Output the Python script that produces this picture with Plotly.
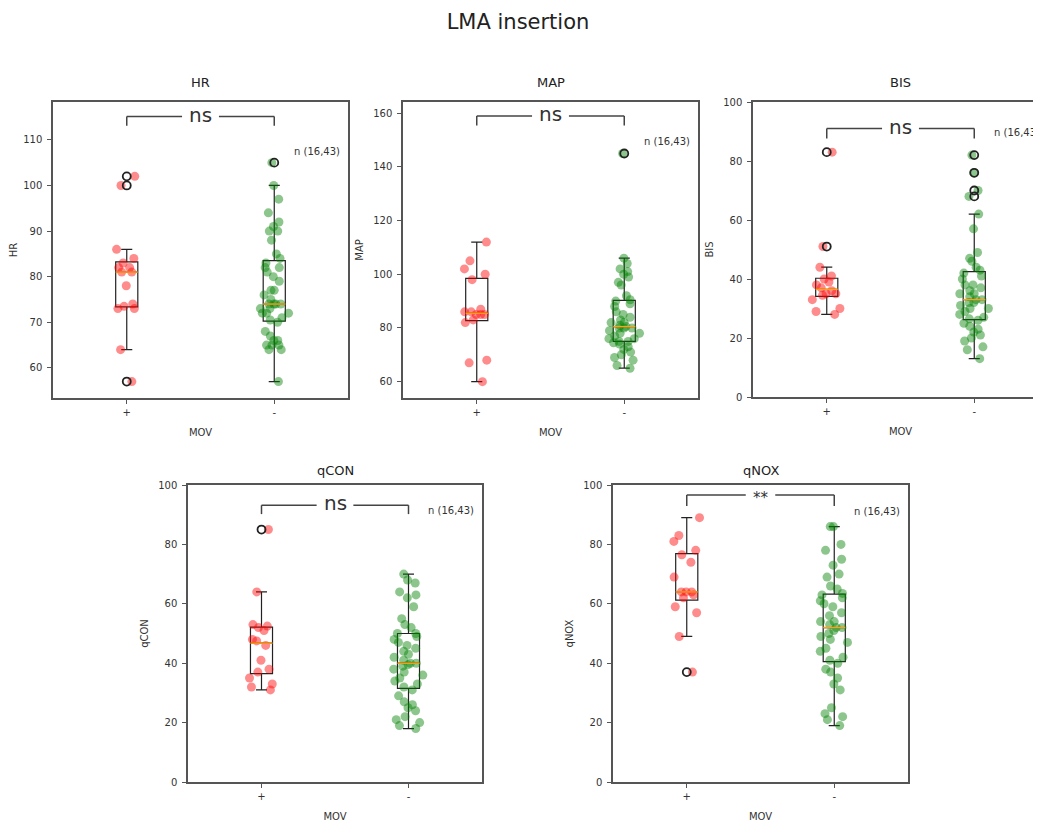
import numpy as np
import plotly.graph_objects as go

# ---------------- data ----------------
categories = ["+", "-"]
group_n = (16, 43)

hr_pos = [57, 64, 73, 73, 73.5, 74, 78, 81, 81, 82, 82, 83, 84, 86, 100, 102]
hr_neg = [57, 64, 64, 65, 65, 65, 66, 66, 67, 68, 70, 70.5, 71, 72, 72, 72, 73, 73,
          74, 74, 74, 74, 75, 76, 77, 77, 79, 80, 81, 82, 82, 83, 84, 85, 88, 90,
          90, 91, 92, 94, 97, 100, 105]

map_pos = [60, 67, 68, 82, 83, 85, 85, 85, 86, 86, 87, 98, 100, 102, 105, 112]
map_neg = [65, 66, 68, 69, 70, 71, 72, 73, 74, 74.5, 75, 75, 76, 76, 77, 78, 78, 79,
           80, 80, 80, 80.5, 81, 82, 82, 83, 84, 85, 86, 88, 89, 90, 90.5, 92, 96,
           97, 99, 100, 101, 102, 104, 106, 145]

bis_pos = [28, 29, 30, 33, 34.5, 35, 35, 36, 37, 38, 39, 40, 41, 44, 51, 83]
bis_neg = [13, 16, 17, 19, 20, 21, 22, 23, 24, 25, 26, 26.5, 27, 28, 29, 30, 30, 31,
           32, 32, 33, 33, 34, 35, 35, 36, 37, 38, 38, 40, 41, 42, 43, 44, 46, 47,
           49, 57, 62, 68, 70, 76, 82]

qcon_pos = [31, 32, 33, 35, 37, 38, 41, 46, 47.5, 48, 51, 52, 52.5, 53, 64, 85]
qcon_neg = [18, 19, 20, 21, 22, 24, 25, 26, 27, 29, 31, 32, 33, 34, 35, 36, 37, 38,
            39, 39.5, 40, 40, 41, 42, 43, 44, 45, 46, 47, 48, 49, 50, 50, 52, 53, 55,
            59, 62, 63, 64, 67, 68, 70]

qnox_pos = [37, 49, 57, 59, 62, 63, 64, 64, 64, 69, 74, 76.5, 78, 81, 83, 89]
qnox_neg = [19, 21, 22, 23, 25, 31, 33, 35, 37, 38, 40, 41, 42, 44, 45, 47, 48, 49,
            50, 51, 52, 52, 53, 54, 54, 56, 57, 59, 60, 61, 62, 63, 63.5, 65, 66, 69,
            70, 73, 75, 78, 80, 86, 86]

titles = ["HR", "MAP", "BIS", "qCON", "qNOX"]
pos_data = [hr_pos, map_pos, bis_pos, qcon_pos, qnox_pos]
neg_data = [hr_neg, map_neg, bis_neg, qcon_neg, qnox_neg]
sig_labels = ["ns", "ns", "ns", "ns", "**"]

# ---------------- layout / style ----------------
W, H = 1041, 825
OFF = 8  # page body margin of the browser
FONT = "DejaVu Sans"
TXT = "#333333"
FRAME = "#555555"
RED_PT = "rgba(255,0,0,0.45)"
GREEN_PT = "rgba(0,128,0,0.45)"
MEDIAN = "#ff9f1a"


def px_x(p):
    return (p - OFF) / W


def px_y(p):
    return 1 - (p - OFF) / H


# pixel frames on screen (left, right, top, bottom)
frames = [(53, 348, 102, 398), (403, 698, 102, 398), (753, 1048, 102, 397),
          (188, 482, 485, 782), (613, 908, 485, 782)]
yranges = [[53.4, 118.3], [53.9, 164.2], [0, 100], [0, 100], [0, 100]]
ytickvals = [list(range(60, 111, 10)), list(range(60, 161, 20)),
             list(range(0, 101, 20)), list(range(0, 101, 20)), list(range(0, 101, 20))]
# bracket (top, leg bottom), gap half-width, n-label y
brackets = [(115.1, 113.1), (159.0, 155.4), (91.0, 87.6), (93.2, 90.2), (96.6, 92.9)]
gaps = [0.125, 0.125, 0.125, 0.125, 0.10]
nlabel_y = [107.4, 149.4, 89.8, 91.3, 91.0]


def box_stats(vals):
    """matplotlib-style box statistics (numpy linear percentiles, 1.5 IQR whiskers)."""
    a = np.sort(np.asarray(vals, dtype=float))
    q1, med, q3 = np.percentile(a, [25, 50, 75])
    iqr = q3 - q1
    lo_lim, hi_lim = q1 - 1.5 * iqr, q3 + 1.5 * iqr
    inside = a[(a >= lo_lim) & (a <= hi_lim)]
    lo, hi = inside.min(), inside.max()
    fliers = a[(a < lo) | (a > hi)]
    return q1, med, q3, lo, hi, fliers


fig = go.Figure()
layout = dict(
    template="none",
    width=W, height=H, autosize=False,
    margin=dict(l=0, r=0, t=0, b=0, pad=0),
    paper_bgcolor="white", plot_bgcolor="white",
    showlegend=False, boxmode="overlay",
    font=dict(family=FONT, color=TXT),
    title=dict(text="LMA insertion", x=px_x(518), y=px_y(22), xanchor="center",
               yanchor="middle", font=dict(size=21, color="#222222", family=FONT)),
)
shapes = []
annotations = []

BOX_W = 0.15
for i in range(5):
    k = i + 1
    xa = f"x{k}" if k > 1 else "x"
    ya = f"y{k}" if k > 1 else "y"
    l, r, t, b = frames[i]
    xd0 = px_x(l)
    xd1 = min(px_x(r), 1.0)
    x_right = -0.5 + 2.0 * (xd1 * W + OFF - l) / (r - l)
    xkey = "xaxis" if k == 1 else f"xaxis{k}"
    ykey = "yaxis" if k == 1 else f"yaxis{k}"
    layout[xkey] = dict(
        domain=[xd0, xd1], anchor=ya, type="category", automargin=False,
        categoryorder="array", categoryarray=categories,
        range=[-0.5, x_right], showgrid=False, zeroline=False,
        showline=True, mirror=True, linecolor=FRAME, linewidth=1.5,
        ticks="outside", ticklen=4, tickcolor=FRAME, tickwidth=1,
        tickfont=dict(size=10, color=TXT, family=FONT),
        title=dict(text="MOV", font=dict(size=10, color=TXT, family=FONT), standoff=12),
    )
    layout[ykey] = dict(
        domain=[px_y(b), px_y(t)], anchor=xa, automargin=False,
        range=yranges[i], tickvals=ytickvals[i], showgrid=False, zeroline=False,
        showline=True, mirror=True, linecolor=FRAME, linewidth=1.5,
        ticks="outside", ticklen=4, tickcolor=FRAME, tickwidth=1,
        ticklabelstandoff=3,
        tickfont=dict(size=10, color=TXT, family=FONT),
        title=dict(text=titles[i], font=dict(size=10, color=TXT, family=FONT), standoff=8),
    )

    for cat, vals, pcol in ((categories[0], pos_data[i], RED_PT),
                            (categories[1], neg_data[i], GREEN_PT)):
        q1, med, q3, lo, hi, fliers = box_stats(vals)
        # box (matplotlib-style statistics)
        fig.add_trace(go.Box(
            x=[cat], q1=[q1], median=[med], q3=[q3], lowerfence=[lo], upperfence=[hi],
            xaxis=xa, yaxis=ya, boxpoints=False,
            width=BOX_W, whiskerwidth=0.5,
            line=dict(color="#222222", width=1.2),
            fillcolor="rgba(0,0,0,0)", hoverinfo="skip",
        ))
        # fliers
        if len(fliers):
            fig.add_trace(go.Scatter(
                x=[cat] * len(fliers), y=fliers, xaxis=xa, yaxis=ya, mode="markers",
                marker=dict(symbol="circle-open", size=8, color="#222222",
                            line=dict(width=1.8, color="#222222")),
                hoverinfo="skip",
            ))
        # jittered points
        fig.add_trace(go.Box(
            y=vals, x=[cat] * len(vals), xaxis=xa, yaxis=ya,
            boxpoints="all", jitter=0.9, pointpos=0,
            width=0.26, line=dict(color="rgba(0,0,0,0)", width=0),
            fillcolor="rgba(0,0,0,0)",
            marker=dict(symbol="circle", size=9, color=pcol, line=dict(width=0)),
            hoverinfo="skip",
        ))
        # orange median
        ci = categories.index(cat)
        shapes.append(dict(type="line", xref=xa, yref=ya, x0=ci - BOX_W / 2, x1=ci + BOX_W / 2,
                           y0=med, y1=med, line=dict(color=MEDIAN, width=1.5), layer="above"))

    # significance bracket (line broken around the label)
    top, leg = brackets[i]
    g = gaps[i]
    bl = dict(color="#444444", width=1.5)
    shapes.append(dict(type="line", xref=xa, yref=ya, x0=0, x1=0.5 - g, y0=top, y1=top, line=bl))
    shapes.append(dict(type="line", xref=xa, yref=ya, x0=0.5 + g, x1=1, y0=top, y1=top, line=bl))
    shapes.append(dict(type="line", xref=xa, yref=ya, x0=0, x1=0, y0=leg, y1=top, line=bl))
    shapes.append(dict(type="line", xref=xa, yref=ya, x0=1, x1=1, y0=leg, y1=top, line=bl))
    if sig_labels[i] == "ns":
        annotations.append(dict(x=0.5, y=top, xref=xa, yref=ya, text="ns", showarrow=False,
                                font=dict(size=20, color="#333333", family=FONT),
                                xanchor="center", yanchor="middle", yshift=2))
    else:
        annotations.append(dict(x=0.5, y=top, xref=xa, yref=ya, text="**", showarrow=False,
                                font=dict(size=15, color="#333333", family=FONT),
                                xanchor="center", yanchor="middle", yshift=-3))
    # n label
    annotations.append(dict(x=1.12, y=nlabel_y[i], xref=xa, yref=ya,
                            text=f"n ({group_n[0]},{group_n[1]})", showarrow=False,
                            font=dict(size=10, color=TXT, family=FONT),
                            xanchor="left", yanchor="middle"))
    # subplot title
    tcy = 82 if i < 3 else 470
    annotations.append(dict(x=px_x((l + r) / 2), y=px_y(tcy), xref="paper", yref="paper",
                            text=titles[i], showarrow=False,
                            font=dict(size=13, color="#222222", family=FONT),
                            xanchor="center", yanchor="middle"))

layout["shapes"] = shapes
layout["annotations"] = annotations
fig.update_layout(**layout)
fig.write_html("out.html")
